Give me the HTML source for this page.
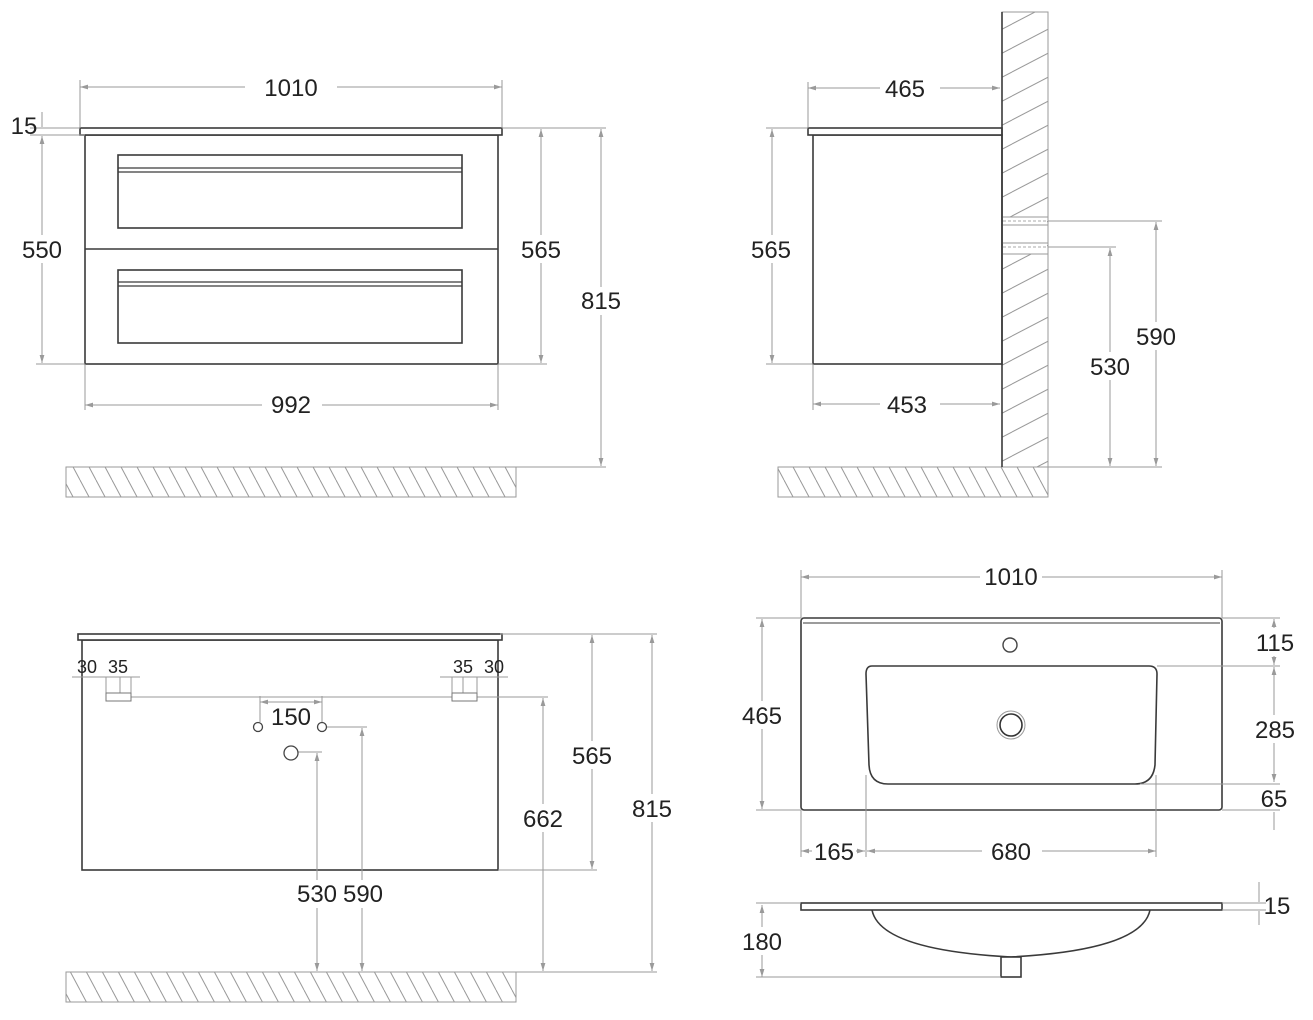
<!DOCTYPE html>
<html><head><meta charset="utf-8"><style>
html,body{margin:0;padding:0;background:#fff}
svg{display:block}
text{font-family:"Liberation Sans Narrow","Liberation Sans",sans-serif;font-size:24px;fill:#222;text-anchor:middle}
.o{fill:#fff;stroke:#3a3a3a;stroke-width:1.6}
.d{stroke:#9a9a9a;stroke-width:1;fill:none}
.h{fill:url(#hb);stroke:#9a9a9a;stroke-width:1}
.w{fill:url(#hf);stroke:#9a9a9a;stroke-width:1}
</style></head><body>
<svg width="1313" height="1020" viewBox="0 0 1313 1020" xmlns="http://www.w3.org/2000/svg">
<defs>
<pattern id="hb" patternUnits="userSpaceOnUse" width="16" height="30"><line x1="0" y1="0" x2="16" y2="30" stroke="#9a9a9a" stroke-width="1"/><line x1="-16" y1="0" x2="0" y2="30" stroke="#9a9a9a" stroke-width="1"/><line x1="16" y1="0" x2="32" y2="30" stroke="#9a9a9a" stroke-width="1"/></pattern>
<pattern id="hf" patternUnits="userSpaceOnUse" width="46" height="24"><line x1="0" y1="24" x2="46" y2="0" stroke="#9a9a9a" stroke-width="1"/><line x1="0" y1="48" x2="46" y2="24" stroke="#9a9a9a" stroke-width="1"/><line x1="0" y1="0" x2="46" y2="-24" stroke="#9a9a9a" stroke-width="1"/></pattern>
<marker id="a" viewBox="0 0 10 10" refX="10" refY="5" markerWidth="8" markerHeight="8" orient="auto-start-reverse"><path d="M0,2 L10,5 L0,8 z" fill="#9a9a9a"/></marker>
</defs>
<rect class="h" x="66" y="467" width="450" height="30"/>
<rect class="h" x="778" y="467" width="270" height="30"/>
<rect class="w" x="1002" y="12" width="46" height="455"/>
<rect x="1003" y="217" width="44" height="37" fill="#fff"/>
<line x1="1003" y1="217" x2="1048" y2="217" class="d"/><line x1="1003" y1="225" x2="1048" y2="225" class="d"/>
<line x1="1003" y1="243" x2="1048" y2="243" class="d"/><line x1="1003" y1="254" x2="1048" y2="254" class="d"/>
<line x1="1003" y1="221" x2="1048" y2="221" stroke="#aaa" stroke-dasharray="3,2"/>
<line x1="1003" y1="247" x2="1048" y2="247" stroke="#aaa" stroke-dasharray="3,2"/>
<rect class="h" x="66" y="972" width="450" height="30"/>
<rect class="o" x="85" y="135" width="413" height="229"/>
<rect class="o" x="80" y="128" width="422" height="7"/>
<line x1="85" y1="249" x2="498" y2="249" stroke="#3a3a3a" stroke-width="1.6"/>
<rect class="o" x="118" y="155" width="344" height="73"/>
<line x1="118" y1="168" x2="462" y2="168" stroke="#3a3a3a" stroke-width="1.2"/><line x1="118" y1="172" x2="462" y2="172" stroke="#3a3a3a" stroke-width="1.2"/>
<rect class="o" x="118" y="270" width="344" height="73"/>
<line x1="118" y1="282" x2="462" y2="282" stroke="#3a3a3a" stroke-width="1.2"/><line x1="118" y1="286" x2="462" y2="286" stroke="#3a3a3a" stroke-width="1.2"/>
<rect class="o" x="813" y="135" width="189" height="229"/>
<rect class="o" x="808" y="128" width="194" height="7"/>
<line x1="1002" y1="12" x2="1002" y2="467" stroke="#3a3a3a" stroke-width="1.6"/>
<rect class="o" x="82" y="640" width="416" height="230"/>
<rect class="o" x="78" y="634" width="424" height="6"/>
<rect class="o" x="801" y="618" width="421" height="192" rx="3"/>
<line x1="803" y1="623" x2="1220" y2="623" stroke="#3a3a3a" stroke-width="1"/>
<circle cx="1010" cy="645" r="7" fill="#fff" stroke="#444" stroke-width="1.4"/>
<path d="M872,666 L1149,666 Q1157,666 1157,674 L1155,765 Q1153,784 1135,784 L888,784 Q870,784 869,765 L866,674 Q866,666 872,666 Z" class="o"/>
<circle cx="1011" cy="725" r="14" fill="none" stroke="#999" stroke-width="1"/>
<circle cx="1011" cy="725" r="11" fill="none" stroke="#333" stroke-width="1.6"/>
<path d="M872,910 Q880,950 1011,957 Q1142,950 1150,910" class="o"/>
<rect class="o" x="1001" y="957" width="20" height="20"/>
<rect class="o" x="801" y="903" width="421" height="7"/>
<g class="d" marker-start="url(#a)" marker-end="url(#a)">
<line x1="80" y1="87" x2="502" y2="87"/>
<line x1="85" y1="405" x2="498" y2="405"/>
<line x1="42" y1="136" x2="42" y2="363"/>
<line x1="541" y1="129" x2="541" y2="363"/>
<line x1="601" y1="129" x2="601" y2="466"/>
<line x1="808" y1="88" x2="1000" y2="88"/>
<line x1="813" y1="404" x2="1000" y2="404"/>
<line x1="772" y1="129" x2="772" y2="363"/>
<line x1="1110" y1="248" x2="1110" y2="466"/>
<line x1="1156" y1="222" x2="1156" y2="466"/>
<line x1="260" y1="702" x2="322" y2="702"/>
<line x1="317" y1="753" x2="317" y2="971"/>
<line x1="362" y1="728" x2="362" y2="971"/>
<line x1="543" y1="698" x2="543" y2="971"/>
<line x1="592" y1="635" x2="592" y2="869"/>
<line x1="652" y1="635" x2="652" y2="971"/>
<line x1="801" y1="577" x2="1222" y2="577"/>
<line x1="762" y1="619" x2="762" y2="809"/>
<line x1="1274" y1="619" x2="1274" y2="665"/>
<line x1="1274" y1="667" x2="1274" y2="782"/>
<line x1="801" y1="851" x2="865" y2="851"/>
<line x1="867" y1="851" x2="1156" y2="851"/>
<line x1="762" y1="905" x2="762" y2="977"/>
</g>
<g class="d">
<line x1="80" y1="80" x2="80" y2="128"/><line x1="502" y1="80" x2="502" y2="128"/>
<line x1="85" y1="364" x2="85" y2="410"/><line x1="498" y1="364" x2="498" y2="410"/>
<line x1="30" y1="128" x2="80" y2="128"/><line x1="30" y1="135" x2="85" y2="135"/>
<line x1="42" y1="112" x2="42" y2="127"/>
<line x1="36" y1="364" x2="85" y2="364"/><line x1="498" y1="364" x2="547" y2="364"/>
<line x1="502" y1="128" x2="606" y2="128"/><line x1="516" y1="467" x2="606" y2="467"/>
<line x1="808" y1="82" x2="808" y2="128"/>
<line x1="813" y1="364" x2="813" y2="410"/>
<line x1="766" y1="128" x2="808" y2="128"/><line x1="766" y1="364" x2="813" y2="364"/>
<line x1="1048" y1="221" x2="1162" y2="221"/><line x1="1048" y1="247" x2="1116" y2="247"/>
<line x1="1048" y1="467" x2="1162" y2="467"/>
<line x1="72" y1="677" x2="140" y2="677"/><line x1="440" y1="677" x2="508" y2="677"/>
<line x1="106" y1="677" x2="106" y2="694"/><line x1="120" y1="677" x2="120" y2="694"/><line x1="131" y1="677" x2="131" y2="694"/>
<line x1="452" y1="677" x2="452" y2="694"/><line x1="463" y1="677" x2="463" y2="694"/><line x1="477" y1="677" x2="477" y2="694"/>
<line x1="131" y1="697" x2="452" y2="697"/><line x1="477" y1="697" x2="548" y2="697"/>
<line x1="260" y1="696" x2="260" y2="722"/><line x1="322" y1="696" x2="322" y2="722"/>
<line x1="327" y1="727" x2="367" y2="727"/><line x1="298" y1="752" x2="322" y2="752"/>
<line x1="500" y1="634" x2="657" y2="634"/><line x1="498" y1="870" x2="597" y2="870"/>
<line x1="516" y1="972" x2="657" y2="972"/><line x1="240" y1="972" x2="516" y2="972"/>
<line x1="801" y1="570" x2="801" y2="618"/><line x1="1222" y1="570" x2="1222" y2="618"/>
<line x1="756" y1="618" x2="801" y2="618"/><line x1="756" y1="810" x2="801" y2="810"/>
<line x1="1222" y1="618" x2="1280" y2="618"/><line x1="1157" y1="666" x2="1280" y2="666"/>
<line x1="1140" y1="784" x2="1280" y2="784"/><line x1="1222" y1="810" x2="1280" y2="810"/>
<line x1="1274" y1="812" x2="1274" y2="830"/>
<line x1="801" y1="810" x2="801" y2="857"/><line x1="866" y1="775" x2="866" y2="857"/><line x1="1156" y1="775" x2="1156" y2="857"/>
<line x1="756" y1="903" x2="801" y2="903"/><line x1="756" y1="977" x2="1001" y2="977"/>
<line x1="1222" y1="903" x2="1266" y2="903"/><line x1="1222" y1="910" x2="1266" y2="910"/>
<line x1="1259" y1="882" x2="1259" y2="902"/><line x1="1259" y1="911" x2="1259" y2="925"/>
</g>
<rect x="106" y="693" width="25" height="8" fill="#fff" stroke="#777" stroke-width="1"/>
<rect x="452" y="693" width="25" height="8" fill="#fff" stroke="#777" stroke-width="1"/>
<circle cx="258" cy="727" r="4.5" fill="#fff" stroke="#444" stroke-width="1.3"/>
<circle cx="322" cy="727" r="4.5" fill="#fff" stroke="#444" stroke-width="1.3"/>
<circle cx="291" cy="753" r="7" fill="#fff" stroke="#444" stroke-width="1.3"/>
<g>
<rect x="245" y="72" width="92" height="30" fill="#fff"/><text x="291" y="96">1010</text>
<text x="24" y="134">15</text>
<rect x="20" y="235" width="44" height="28" fill="#fff"/><text x="42" y="258">550</text>
<rect x="519" y="235" width="44" height="28" fill="#fff"/><text x="541" y="258">565</text>
<rect x="579" y="287" width="44" height="28" fill="#fff"/><text x="601" y="309">815</text>
<rect x="262" y="390" width="60" height="30" fill="#fff"/><text x="291" y="413">992</text>
<rect x="880" y="74" width="60" height="30" fill="#fff"/><text x="905" y="97">465</text>
<rect x="880" y="390" width="60" height="30" fill="#fff"/><text x="907" y="413">453</text>
<rect x="750" y="235" width="44" height="28" fill="#fff"/><text x="771" y="258">565</text>
<rect x="1088" y="352" width="44" height="28" fill="#fff"/><text x="1110" y="375">530</text>
<rect x="1134" y="322" width="44" height="28" fill="#fff"/><text x="1156" y="345">590</text>
<text x="87" y="673" style="font-size:18px">30</text><text x="118" y="673" style="font-size:18px">35</text>
<text x="463" y="673" style="font-size:18px">35</text><text x="494" y="673" style="font-size:18px">30</text>
<text x="291" y="725">150</text>
<rect x="294" y="880" width="92" height="28" fill="#fff"/><text x="317" y="902">530</text><text x="363" y="902">590</text>
<rect x="521" y="804" width="44" height="28" fill="#fff"/><text x="543" y="827">662</text>
<rect x="570" y="741" width="44" height="28" fill="#fff"/><text x="592" y="764">565</text>
<rect x="630" y="794" width="44" height="28" fill="#fff"/><text x="652" y="817">815</text>
<rect x="980" y="562" width="62" height="30" fill="#fff"/><text x="1011" y="585">1010</text>
<rect x="740" y="701" width="44" height="28" fill="#fff"/><text x="762" y="724">465</text>
<rect x="1252" y="628" width="50" height="28" fill="#fff"/><text x="1275" y="651">115</text>
<rect x="1252" y="715" width="50" height="28" fill="#fff"/><text x="1275" y="738">285</text>
<text x="1274" y="807">65</text>
<rect x="812" y="837" width="44" height="28" fill="#fff"/><text x="834" y="860">165</text>
<rect x="982" y="837" width="60" height="28" fill="#fff"/><text x="1011" y="860">680</text>
<text x="1277" y="914">15</text>
<rect x="740" y="927" width="44" height="28" fill="#fff"/><text x="762" y="950">180</text>
</g>
</svg>
</body></html>
